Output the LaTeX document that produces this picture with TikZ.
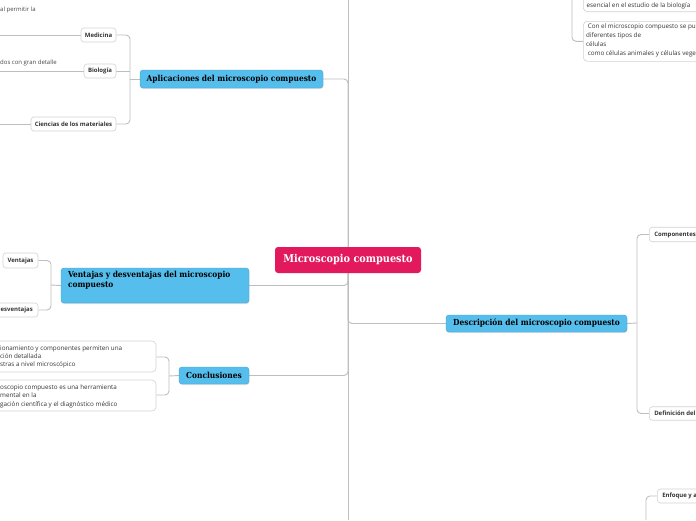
\documentclass[tikz,border=0pt]{standalone}
\usepackage{fontspec}
\setmainfont{Open Sans}
\newfontfamily\slab{DejaVu Serif Condensed}
\usetikzlibrary{shadows}
\definecolor{pinkc}{HTML}{E3195E}
\definecolor{bluec}{HTML}{55BEEC}
\definecolor{lineg}{HTML}{BEBEBE}
\definecolor{bordg}{HTML}{D2D2D2}
\definecolor{txtg}{HTML}{333333}
\pgfdeclarelayer{bg}
\pgfsetlayers{bg,main}
\begin{document}
\begin{tikzpicture}[x=1pt,y=-1pt,
 conn/.style={draw=lineg,line width=0.9pt,rounded corners=4pt},
 central/.style={fill=pinkc,rounded corners=3pt,text=white,font=\slab\bfseries\fontsize{10.8}{12}\selectfont,minimum width=146pt,minimum height=26pt,inner sep=0pt},
 mainbox/.style={fill=bluec,draw=bluec!85!black,line width=0.4pt,rounded corners=3pt,font=\slab\bfseries\fontsize{8.3}{9.5}\selectfont,inner sep=0pt,drop shadow={opacity=0.25,shadow xshift=0.4pt,shadow yshift=-1pt}},
 sub/.style={fill=white,draw=bordg,line width=0.6pt,rounded corners=3pt,font=\bfseries\fontsize{6}{7}\selectfont,text=txtg,inner sep=0pt,minimum height=14pt},
 textbox/.style={fill=white,draw=bordg,line width=0.6pt,rounded corners=4pt,inner sep=0pt},
 note/.style={font=\fontsize{6.3}{8.3}\selectfont,text=txtg,inner sep=0pt,align=left},
 leaf/.style={font=\fontsize{6}{7}\selectfont,text=txtg!90,inner sep=0pt},
]
\useasboundingbox (0,0) rectangle (696,520);
\clip (0,0) rectangle (696,520);

% central
\node[central] (c) at (348,260) {Microscopio compuesto};

% main branches
\node[mainbox,minimum width=183pt,minimum height=18pt] (apl) at (231.5,79) {Aplicaciones del microscopio compuesto};
\node[mainbox,minimum width=188pt,minimum height=35pt] (ven) at (155,285.5) {\begin{minipage}[c][33pt][t]{174pt}\vspace{2.5pt}Ventajas y desventajas del microscopio\\compuesto\end{minipage}};
\node[mainbox,minimum width=70pt,minimum height=17pt] (conc) at (214,375.5) {Conclusiones};
\node[mainbox,minimum width=181pt,minimum height=17pt] (desc) at (536.5,323.5) {Descripción del microscopio compuesto};

% Aplicaciones children
\node[sub,minimum width=35pt] (med) at (98.5,35) {Medicina};
\node[sub,minimum width=32pt] (bio) at (100,71) {Biología};
\node[sub,minimum width=85pt] (cie) at (73.5,124) {Ciencias de los materiales};
\node[leaf,anchor=west] (medt) at (0,10) {al permitir la};
\node[leaf,anchor=west] (biot) at (0,63) {dos con gran detalle};
\coordinate (ml) at (0,35);
\coordinate (bl) at (0,71);
\coordinate (cl) at (0,124);

% Ventajas children
\node[sub,minimum width=35pt,minimum height=15pt] (vent) at (20.5,260.5) {Ventajas};
\node[sub,minimum width=47pt] (desv) at (14.5,310) {Desventajas};

% Conclusiones children
\node[textbox,minimum width=220pt,minimum height=31pt] (cb1) at (46,356.5) {};
\node[note,anchor=north west] (cb1t) at (0,345.5) {ionamiento y componentes permiten una\\ción detallada\\stras a nivel microscópico};
\node[textbox,minimum width=220pt,minimum height=31pt] (cb2) at (46,395.5) {};
\node[note,anchor=north west] (cb2t) at (0,384.5) {oscopio compuesto es una herramienta\\mental en la\\gación científica y el diagnóstico médico};

% Descripcion children
\node[sub,anchor=west,inner xsep=5pt,minimum height=14.5pt] (comp) at (649,234.5) {Componentes del microscopio};
\node[sub,anchor=west,inner xsep=5pt,minimum height=13.5pt] (def) at (649,413.5) {Definición del microscopio};

% top right boxes
\node[textbox,anchor=south west,minimum width=140pt,minimum height=50pt] (tr1) at (583,12) {};
\node[note,anchor=west] (tr1t) at (586.5,6) {esencial en el estudio de la biología};
\node[textbox,anchor=north west,minimum width=140pt,minimum height=40pt] (tr2) at (583,21) {};
\node[note,anchor=north west,font=\fontsize{6.3}{9.1}\selectfont] (tr2t) at (586,23.5) {\ Con el microscopio compuesto se pueden observar\\diferentes tipos de\\células\\\ como células animales y células vegetales};
\coordinate (trj) at (572,0);

% bottom right
\node[sub,anchor=west,inner xsep=5pt,minimum height=14pt] (enf) at (657,496) {Enfoque y ajuste};
\coordinate (ej) at (646,520);

\coordinate (ttop) at (348,0);
\coordinate (tbot) at (348,520);
\coordinate (aj) at (130,79);
\coordinate (vj) at (51,285);
\coordinate (cj) at (169,376);
\coordinate (dj) at (637,323);

\begin{pgfonlayer}{bg}
\draw[conn] (ttop) -- (tbot);
\draw[conn] (apl.east) -| (c.center);
\draw[conn] (ven.east) -| (c.center);
\draw[conn] (conc.east) -| (c.center);
\draw[conn] (desc.west) -| (c.center);

\draw[conn] (apl.west) -- (aj);
\draw[conn] (med.east) -| (aj);
\draw[conn] (cie.east) -| (aj);
\draw[conn] (bio.east) -- (aj |- bio.east);
\draw[conn] (med.west) -- (ml);
\draw[conn] (bio.west) -- (bl);
\draw[conn] (cie.west) -- (cl);

\draw[conn] (ven.west) -- (vj);
\draw[conn] (vent.east) -| (vj);
\draw[conn] (desv.east) -| (vj);

\draw[conn] (conc.west) -- (cj);
\draw[conn] (cb1.east |- 0,357) -| (cj);
\draw[conn] (cb2.east |- 0,395) -| (cj);

\draw[conn] (desc.east) -- (dj);
\draw[conn] (comp.west) -| (dj);
\draw[conn] (def.west) -| (dj);

\draw[conn] (tr2.west) -| (trj);
\draw[conn] (enf.west) -| (ej);
\end{pgfonlayer}
\end{tikzpicture}
\end{document}
